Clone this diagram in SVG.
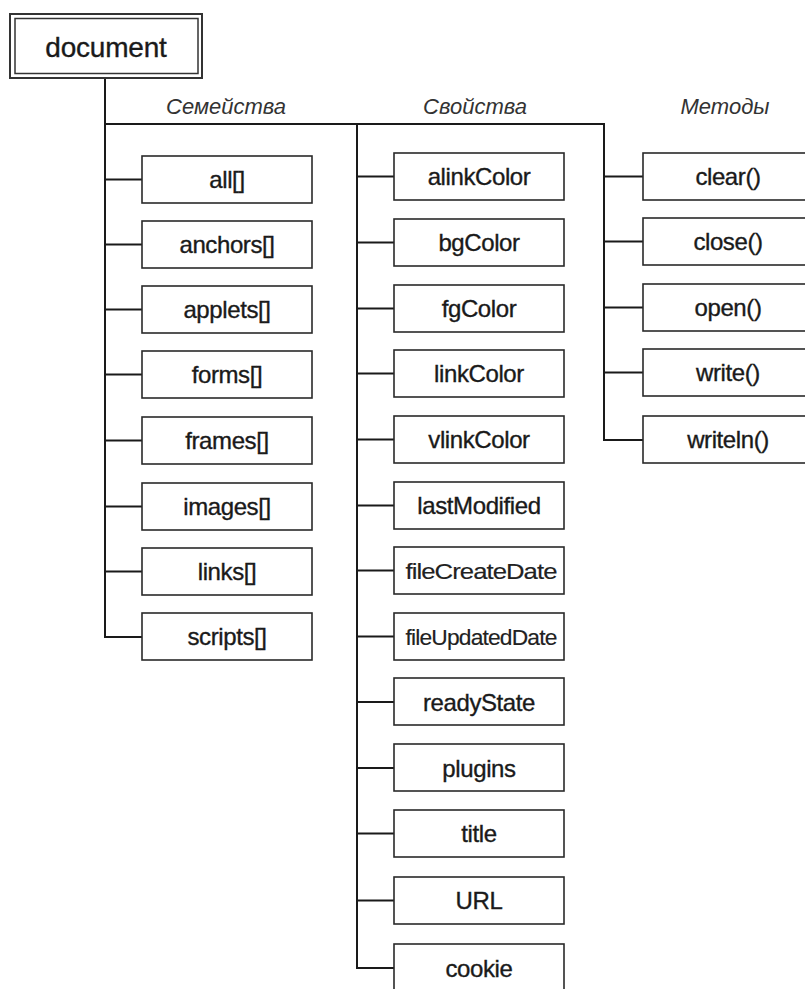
<svg xmlns="http://www.w3.org/2000/svg" width="805" height="989" viewBox="0 0 805 989">
<style>
.box{fill:#fff;stroke:#2a2a2a;stroke-width:1.6}
.t{font-family:"Liberation Sans",Arial,sans-serif;font-size:24px;letter-spacing:-0.4px;fill:#1a1a1a;stroke:#1a1a1a;stroke-width:0.35;text-anchor:middle;dominant-baseline:central}
.s{font-size:22px;letter-spacing:-0.8px;stroke-width:0.15;fill:#222}
.lbl{font-family:"Liberation Sans",Arial,sans-serif;font-style:italic;font-size:22px;fill:#333;text-anchor:middle}
.c{stroke:#1a1a1a;stroke-width:2;fill:none}
</style>
<rect width="805" height="989" fill="#fff"/>
<g id="connectors">
<path class="c" d="M105,78V637H142"/>
<path class="c" d="M105,124H604V440H643"/>
<path class="c" d="M357,124V968H394"/>
<path class="c" d="M105,179.5H142M105,244.5H142M105,309.5H142M105,374.5H142M105,440.5H142M105,506.5H142M105,571.5H142"/>
<path class="c" d="M357,176.5H394M357,242.5H394M357,308.5H394M357,373.5H394M357,439.5H394M357,505.5H394M357,570.5H394M357,636.5H394M357,702H394M357,768H394M357,833.5H394M357,900.5H394"/>
<path class="c" d="M604,176.5H643M604,241.5H643M604,307.5H643M604,372.5H643"/>
</g>
<g id="labels">
<text class="lbl" x="226" y="114">Семейства</text>
<text class="lbl" x="475" y="114">Свойства</text>
<text class="lbl" x="725" y="114">Методы</text>
</g>
<g id="document">
<rect x="10" y="14" width="192" height="64" fill="#fff" stroke="#333" stroke-width="2"/>
<rect x="15" y="18.5" width="183" height="55" fill="none" stroke="#333" stroke-width="1.5"/>
<text class="t" x="106" y="47" style="font-size:28px;letter-spacing:-0.2px">document</text>
</g>
<g id="all"><rect class="box" x="142" y="156" width="170" height="47"/><text class="t" x="227" y="179.5">all[]</text></g>
<g id="anchors"><rect class="box" x="142" y="221" width="170" height="47"/><text class="t" x="227" y="244.5">anchors[]</text></g>
<g id="applets"><rect class="box" x="142" y="286" width="170" height="47"/><text class="t" x="227" y="309.5">applets[]</text></g>
<g id="forms"><rect class="box" x="142" y="351" width="170" height="47"/><text class="t" x="227" y="374.5">forms[]</text></g>
<g id="frames"><rect class="box" x="142" y="417" width="170" height="47"/><text class="t" x="227" y="440.5">frames[]</text></g>
<g id="images"><rect class="box" x="142" y="483" width="170" height="47"/><text class="t" x="227" y="506.5">images[]</text></g>
<g id="links"><rect class="box" x="142" y="548" width="170" height="47"/><text class="t" x="227" y="571.5">links[]</text></g>
<g id="scripts"><rect class="box" x="142" y="613" width="170" height="47"/><text class="t" x="227" y="636.5">scripts[]</text></g>
<g id="alinkColor"><rect class="box" x="394" y="153" width="170" height="47"/><text class="t" x="479" y="176.5">alinkColor</text></g>
<g id="bgColor"><rect class="box" x="394" y="219" width="170" height="47"/><text class="t" x="479" y="242.5">bgColor</text></g>
<g id="fgColor"><rect class="box" x="394" y="285" width="170" height="47"/><text class="t" x="479" y="308.5">fgColor</text></g>
<g id="linkColor"><rect class="box" x="394" y="350" width="170" height="47"/><text class="t" x="479" y="373.5">linkColor</text></g>
<g id="vlinkColor"><rect class="box" x="394" y="416" width="170" height="47"/><text class="t" x="479" y="439.5">vlinkColor</text></g>
<g id="lastModified"><rect class="box" x="394" y="482" width="170" height="47"/><text class="t" x="479" y="505.5">lastModified</text></g>
<g id="fileCreateDate"><rect class="box" x="394" y="547" width="170" height="47"/><text class="t s" x="481" y="571" textLength="151" lengthAdjust="spacingAndGlyphs">fileCreateDate</text></g>
<g id="fileUpdatedDate"><rect class="box" x="394" y="613" width="170" height="47"/><text class="t s" x="481" y="637" textLength="151" lengthAdjust="spacingAndGlyphs">fileUpdatedDate</text></g>
<g id="readyState"><rect class="box" x="394" y="678" width="170" height="47"/><text class="t" x="479" y="702">readyState</text></g>
<g id="plugins"><rect class="box" x="394" y="744" width="170" height="47"/><text class="t" x="479" y="768">plugins</text></g>
<g id="title"><rect class="box" x="394" y="810" width="170" height="47"/><text class="t" x="479" y="833.5">title</text></g>
<g id="URL"><rect class="box" x="394" y="877" width="170" height="47"/><text class="t" x="479" y="900.5">URL</text></g>
<g id="cookie"><rect class="box" x="394" y="944" width="170" height="48"/><text class="t" x="479" y="968">cookie</text></g>
<g id="clear"><rect class="box" x="643" y="153" width="170" height="47"/><text class="t" x="728" y="176.5">clear()</text></g>
<g id="close"><rect class="box" x="643" y="218" width="170" height="47"/><text class="t" x="728" y="241.5">close()</text></g>
<g id="open"><rect class="box" x="643" y="284" width="170" height="47"/><text class="t" x="728" y="307.5">open()</text></g>
<g id="write"><rect class="box" x="643" y="349" width="170" height="47"/><text class="t" x="728" y="372.5">write()</text></g>
<g id="writeln"><rect class="box" x="643" y="416" width="170" height="47"/><text class="t" x="728" y="439.5">writeln()</text></g>
</svg>
